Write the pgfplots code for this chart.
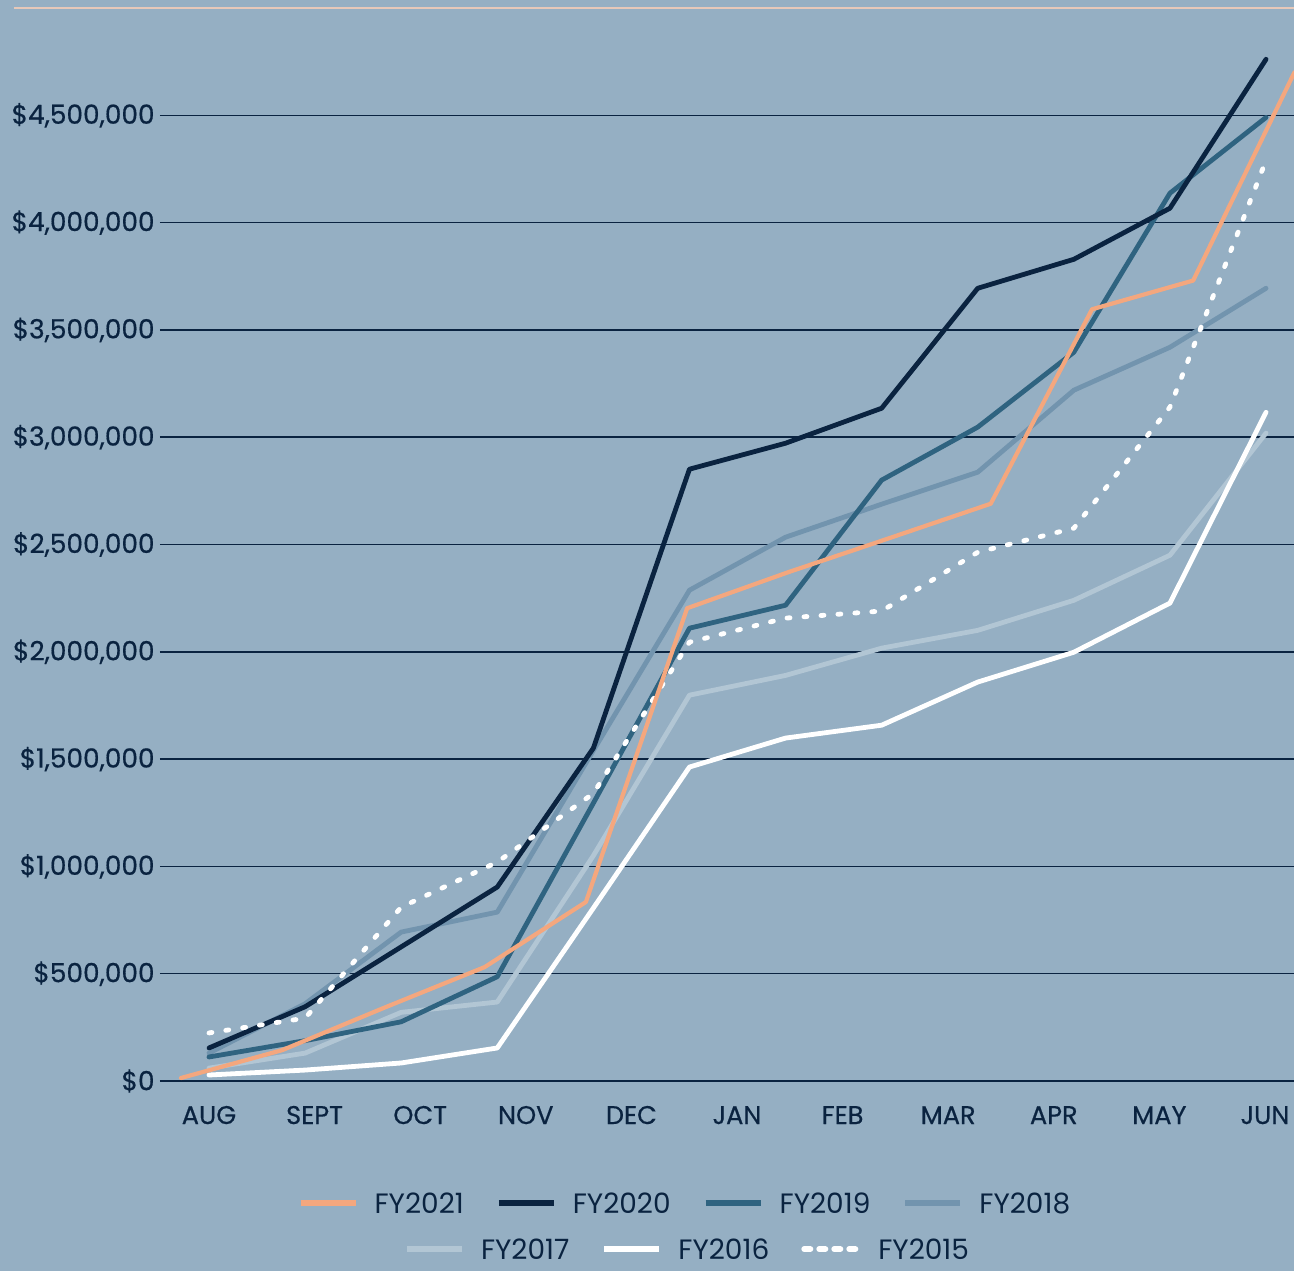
\documentclass[border=0pt]{standalone}
\usepackage{fontspec}
\setmainfont{Poppins}
\newfontfamily\medfont{Poppins}[FakeBold=0.5]
\usepackage{pgfplots}
\pgfplotsset{compat=1.18}
\definecolor{bg}{RGB}{149,175,195}
\definecolor{navy}{RGB}{10,35,64}
\definecolor{c21}{RGB}{244,167,126}
\definecolor{c20}{RGB}{10,35,64}
\definecolor{c19}{RGB}{47,99,128}
\definecolor{c18}{RGB}{114,148,174}
\definecolor{c17}{RGB}{178,198,212}
\definecolor{topl}{RGB}{230,200,185}
\pgfplotsset{
  base/.style={
    at={(0,0)}, anchor=south west,
    scale only axis, width=567pt, height=536.5pt,
    xmin=-0.464, xmax=10.275, ymin=0, ymax=5000000,
  },
  leg/.style={
    legend style={draw=none, fill=none, text=navy,
      font=\fontsize{14}{14}\selectfont,
      nodes={inner sep=0pt, text depth=0pt},
      /tikz/every odd column/.append style={column sep=8pt},
      /tikz/every even column/.append style={column sep=16pt}},
    legend image code/.code={\draw[##1] (0pt,0pt) -- (27.5pt,0pt);},
  },
  ser/.style={line width=2.4pt, line join=round, line cap=round},
  dashser/.style={white, line width=2.4pt, line join=round, line cap=round, dash pattern=on 1.5pt off 7pt},
}
\begin{document}
\begin{tikzpicture}
\path[fill=bg, use as bounding box] (-80pt,-95pt) rectangle (567pt,540.5pt);
\begin{axis}[base, leg,
  clip=true,
  axis line style={draw=none},
  major tick length=0pt,
  xtick={0,...,10},
  xticklabels={AUG,SEPT,OCT,NOV,DEC,JAN,FEB,MAR,APR,MAY,JUN},
  ytick={0,500000,1000000,1500000,2000000,2500000,3000000,3500000,4000000,4500000},
  yticklabels={{\$0},{\$500,000},{\$1,000,000},{\$1,500,000},{\$2,000,000},{\$2,500,000},{\$3,000,000},{\$3,500,000},{\$4,000,000},{\$4,500,000}},
  scaled y ticks=false,
  ymajorgrids, grid style={navy, line width=0.75pt},
  tick label style={text=navy},
  yticklabel style={font=\medfont\fontsize{13.2}{13.2}\selectfont, inner sep=0pt, xshift=-2.5pt},
  xticklabel style={font=\medfont\fontsize{12.8}{12.8}\selectfont, inner sep=0pt, anchor=base, yshift=-21.5pt},
  legend columns=4,
  legend style={at={(0.462,-0.1137)}, anchor=center},
]
\addlegendimage{c21, line width=3pt}
\addlegendentry{FY2021}
\addlegendimage{c20, line width=3pt}
\addlegendentry{FY2020}
\addlegendimage{c19, line width=3pt}
\addlegendentry{FY2019}
\addlegendimage{c18, line width=3pt}
\addlegendentry{FY2018}
% FY2017
\addplot[ser, c17, forget plot] coordinates {(0,60000) (0.91,130000) (1.82,320000) (2.73,368000) (3.64,1050000) (4.55,1798000) (5.46,1890000) (6.37,2017000) (7.28,2100000) (8.19,2240000) (9.10,2450000) (10.01,3019000)};
% FY2018
\addplot[ser, c18, forget plot] coordinates {(0,130000) (0.91,360000) (1.82,694000) (2.73,787000) (3.64,1540000) (4.55,2287000) (5.46,2534000) (6.37,2688000) (7.28,2837000) (8.19,3219000) (9.10,3419000) (10.01,3694000)};
% FY2019
\addplot[ser, c19, forget plot] coordinates {(0,112000) (0.91,188000) (1.82,276000) (2.73,486000) (3.64,1295000) (4.55,2110000) (5.46,2217000) (6.37,2800000) (7.28,3047000) (8.19,3396000) (9.10,4137000) (10.01,4490000)};
% FY2020
\addplot[ser, c20, forget plot] coordinates {(0,154000) (0.91,346000) (1.82,625000) (2.73,904000) (3.64,1551000) (4.55,2851000) (5.46,2972000) (6.37,3135000) (7.28,3694000) (8.19,3829000) (9.10,4067000) (10.01,4761000)};
% FY2016
\addplot[ser, white, forget plot] coordinates {(0,28000) (0.91,51000) (1.82,84000) (2.73,154000) (3.64,806000) (4.55,1463000) (5.46,1598000) (6.37,1658000) (7.28,1859000) (8.19,1998000) (9.10,2227000) (10.01,3116000)};
% FY2015
\addplot[dashser, forget plot] coordinates {(0,224000) (0.91,293000) (1.82,810000) (2.73,1020000) (3.64,1340000) (4.55,2045000) (5.46,2157000) (6.37,2190000) (7.28,2464000) (8.19,2576000) (9.10,3140000) (10.01,4290000)};
% FY2021
\addplot[ser, c21, line width=2.1pt, forget plot] coordinates {(-0.265,14000) (0.694,144000) (1.652,340000) (2.611,531000) (3.569,834000) (4.528,2203000) (5.486,2371000) (6.445,2530000) (7.403,2690000) (8.362,3596000) (9.320,3730000) (10.279,4700000)};
\end{axis}
\begin{axis}[base, leg, hide axis,
  legend columns=3,
  legend style={at={(0.4643,-0.1566)}, anchor=center},
]
\addlegendimage{c17, line width=3pt}
\addlegendentry{FY2017}
\addlegendimage{white, line width=3pt}
\addlegendentry{FY2016}
\addlegendimage{white, line width=3pt, line cap=round, dash pattern=on 3pt off 4.5pt}
\addlegendentry{FY2015}
\end{axis}
\draw[topl, line width=0.9pt] (-73pt,536.5pt) -- (567pt,536.5pt);
\end{tikzpicture}
\end{document}
